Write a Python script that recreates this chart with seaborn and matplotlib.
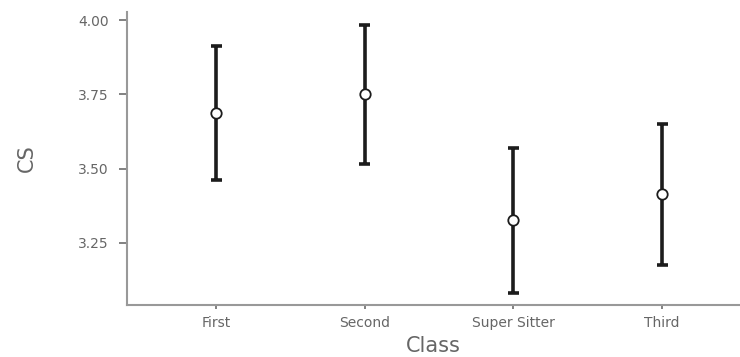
import matplotlib
matplotlib.use("Agg")
import matplotlib.pyplot as plt
import seaborn as sns
import pandas as pd

categories = ["First", "Second", "Super Sitter", "Third"]
means = [3.687, 3.751, 3.327, 3.414]
lower = [3.461, 3.517, 3.083, 3.175]
upper = [3.912, 3.985, 3.571, 3.652]

# long table: median of (lower, mean, upper) = mean, full range = CI
rows = []
for c, lo, m, hi in zip(categories, lower, means, upper):
    for v in (lo, m, hi):
        rows.append({"Class": c, "CS": v})
df = pd.DataFrame(rows)

sns.set_theme(style="white")
plt.rcParams["font.family"] = ["DejaVu Sans"]

fig = plt.figure(figsize=(7.4, 3.57), dpi=100)
ax = fig.add_axes([0.1716, 0.1457, 0.8284, 0.8203])

sns.pointplot(data=df, x="Class", y="CS", order=categories,
              estimator="median", errorbar=("pi", 100),
              color="#1c1c1c", linestyle="none", marker="o",
              markersize=7.5, markerfacecolor="white", markeredgecolor="#1c1c1c",
              markeredgewidth=1.3, capsize=0.075,
              err_kws={"linewidth": 2.6, "zorder": 2, "solid_capstyle": "butt"},
              zorder=3, ax=ax)

ax.set_xlim(-0.6, 3.524)
ax.set_ylim(3.041, 4.027)
ax.set_yticks([3.25, 3.50, 3.75, 4.00])
ax.set_yticklabels(["3.25", "3.50", "3.75", "4.00"])

for s in ["top", "right"]:
    ax.spines[s].set_visible(False)
for s in ["left", "bottom"]:
    ax.spines[s].set_color("#999999")
    ax.spines[s].set_linewidth(1.5)

ax.tick_params(axis="y", direction="out", length=6, width=1.3, color="#777777",
               labelsize=10, labelcolor="#666666", pad=7, left=True)
ax.tick_params(axis="x", direction="out", length=3, width=1.3, color="#777777",
               labelsize=10, labelcolor="#666666", pad=5, bottom=True)

ax.set_xlabel("Class", fontsize=15, color="#666666", labelpad=4)
ax.set_ylabel("CS", fontsize=15, color="#666666", labelpad=30)

fig.savefig("out.png", dpi=100)
